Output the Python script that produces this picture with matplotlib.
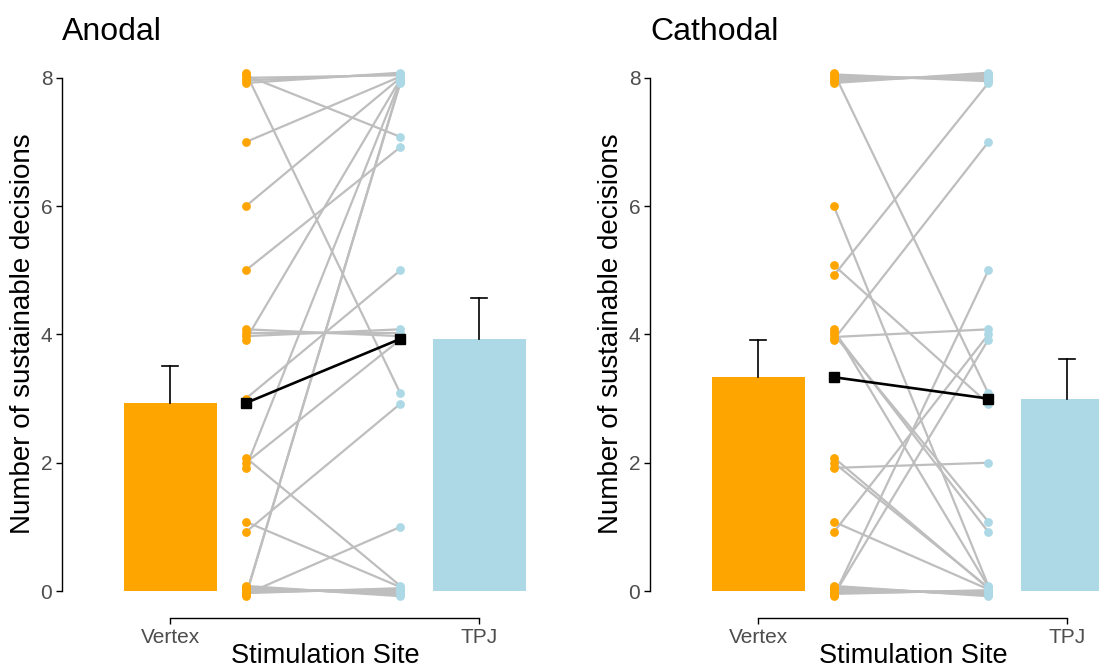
import numpy as np
import matplotlib
matplotlib.use('Agg')
import matplotlib.pyplot as plt

plt.rcParams['font.family'] = ['Liberation Sans', 'DejaVu Sans']

sites = ['Vertex', 'TPJ']
panels = ['Anodal', 'Cathodal']

# sustainable decisions per participant, paired vertex / TPJ
anodal_vertex = [8, 8, 8, 8, 8, 7, 6, 5, 4, 4, 4, 4, 3, 2, 2, 2, 1, 1,
                 0, 0, 0, 0, 0, 0, 0, 0, 0, 0, 0]
anodal_tpj = [8, 8, 8, 7, 3, 8, 8, 7, 8, 4, 4, 4, 5, 8, 4, 0, 3, 0,
              8, 8, 1, 0, 0, 0, 0, 0, 0, 0, 0]

cathodal_vertex = [8, 8, 8, 8, 8, 8, 8, 6, 5, 5, 4, 4, 4, 4, 4, 2, 2, 2, 1, 1,
                   0, 0, 0, 0, 0, 0, 0, 0, 0, 0]
cathodal_tpj = [8, 8, 8, 8, 8, 8, 3, 0, 8, 3, 7, 4, 1, 1, 0, 2, 0, 0, 4, 0,
                5, 4, 0, 0, 0, 0, 0, 0, 0, 0]

ORANGE = '#FFA500'
BLUE = '#ADD8E6'
GREY = '#BEBEBE'
TXT = '#4D4D4D'
XV, XT = 1.245, 1.745  # where the paired dots sit


def spread(vals, w=0.08, flip=False):
    # small vertical offset so tied scores don't sit on top of each other
    vals = np.asarray(vals, float)
    off = np.zeros(len(vals))
    for u in np.unique(vals):
        idx = np.where(vals == u)[0]
        if len(idx) > 1:
            o = np.linspace(-w, w, len(idx))
            off[idx] = o[::-1] if flip else o
    return vals + off


W, H = 1099, 669
fig = plt.figure(figsize=(W / 100, H / 100), dpi=100)

data = [(anodal_vertex, anodal_tpj), (cathodal_vertex, cathodal_tpj)]
for k, (vert, tpj) in enumerate(data):
    x0 = 62 + 588 * k
    ax = fig.add_axes([x0 / W, (H - 618) / H, 479 / W, (618 - 65) / H])
    v = np.array(vert, float)
    t = np.array(tpj, float)
    means = [v.mean(), t.mean()]
    ses = [v.std(ddof=1) / np.sqrt(len(v)), t.std(ddof=1) / np.sqrt(len(t))]

    ax.bar([1, 2], means, width=0.3, color=[ORANGE, BLUE], zorder=1)
    for xi, m, s in zip([1, 2], means, ses):
        ax.plot([xi, xi], [m, m + s], color='black', lw=1.2, zorder=2)
        ax.plot([xi - 0.025, xi + 0.025], [m + s, m + s], color='black', lw=1.2, zorder=2)

    yv = spread(v)
    yt = spread(t, flip=True)
    for a, b in zip(yv, yt):
        ax.plot([XV, XT], [a, b], color=GREY, lw=1.6, zorder=2, solid_capstyle='round')
    ax.scatter(np.full(len(yv), XV), yv, s=40, color=ORANGE, lw=0, zorder=3, clip_on=False)
    ax.scatter(np.full(len(yt), XT), yt, s=40, color=BLUE, lw=0, zorder=3, clip_on=False)
    ax.plot([XV, XT], means, color='black', lw=1.9, marker='s', ms=6.5, zorder=4)

    ax.set_xlim(0.65, 2.2)
    ax.set_ylim(-0.42, 8.2)
    ax.set_xticks([1, 2])
    ax.set_xticklabels(sites)
    ax.set_yticks([0, 2, 4, 6, 8])
    ax.spines['top'].set_visible(False)
    ax.spines['right'].set_visible(False)
    ax.spines['left'].set_bounds(0, 8)
    ax.spines['bottom'].set_bounds(1, 2)
    for sp in ['left', 'bottom']:
        ax.spines[sp].set_linewidth(1.0)
    ax.tick_params(length=4, width=1.0, labelsize=15, labelcolor=TXT, pad=3)
    ax.patch.set_visible(False)

    fig.text(x0 / W, 1 - 40 / H, panels[k], fontsize=23, va='baseline', ha='left')
    fig.text((23 + 588 * k) / W, 1 - 334 / H, 'Number of sustainable decisions',
             fontsize=20, rotation=90, ha='center', va='center')
    fig.text((325 + 588 * k) / W, 1 - 663 / H, 'Stimulation Site',
             fontsize=19.5, ha='center', va='baseline')

fig.savefig('out.png', dpi=100)
